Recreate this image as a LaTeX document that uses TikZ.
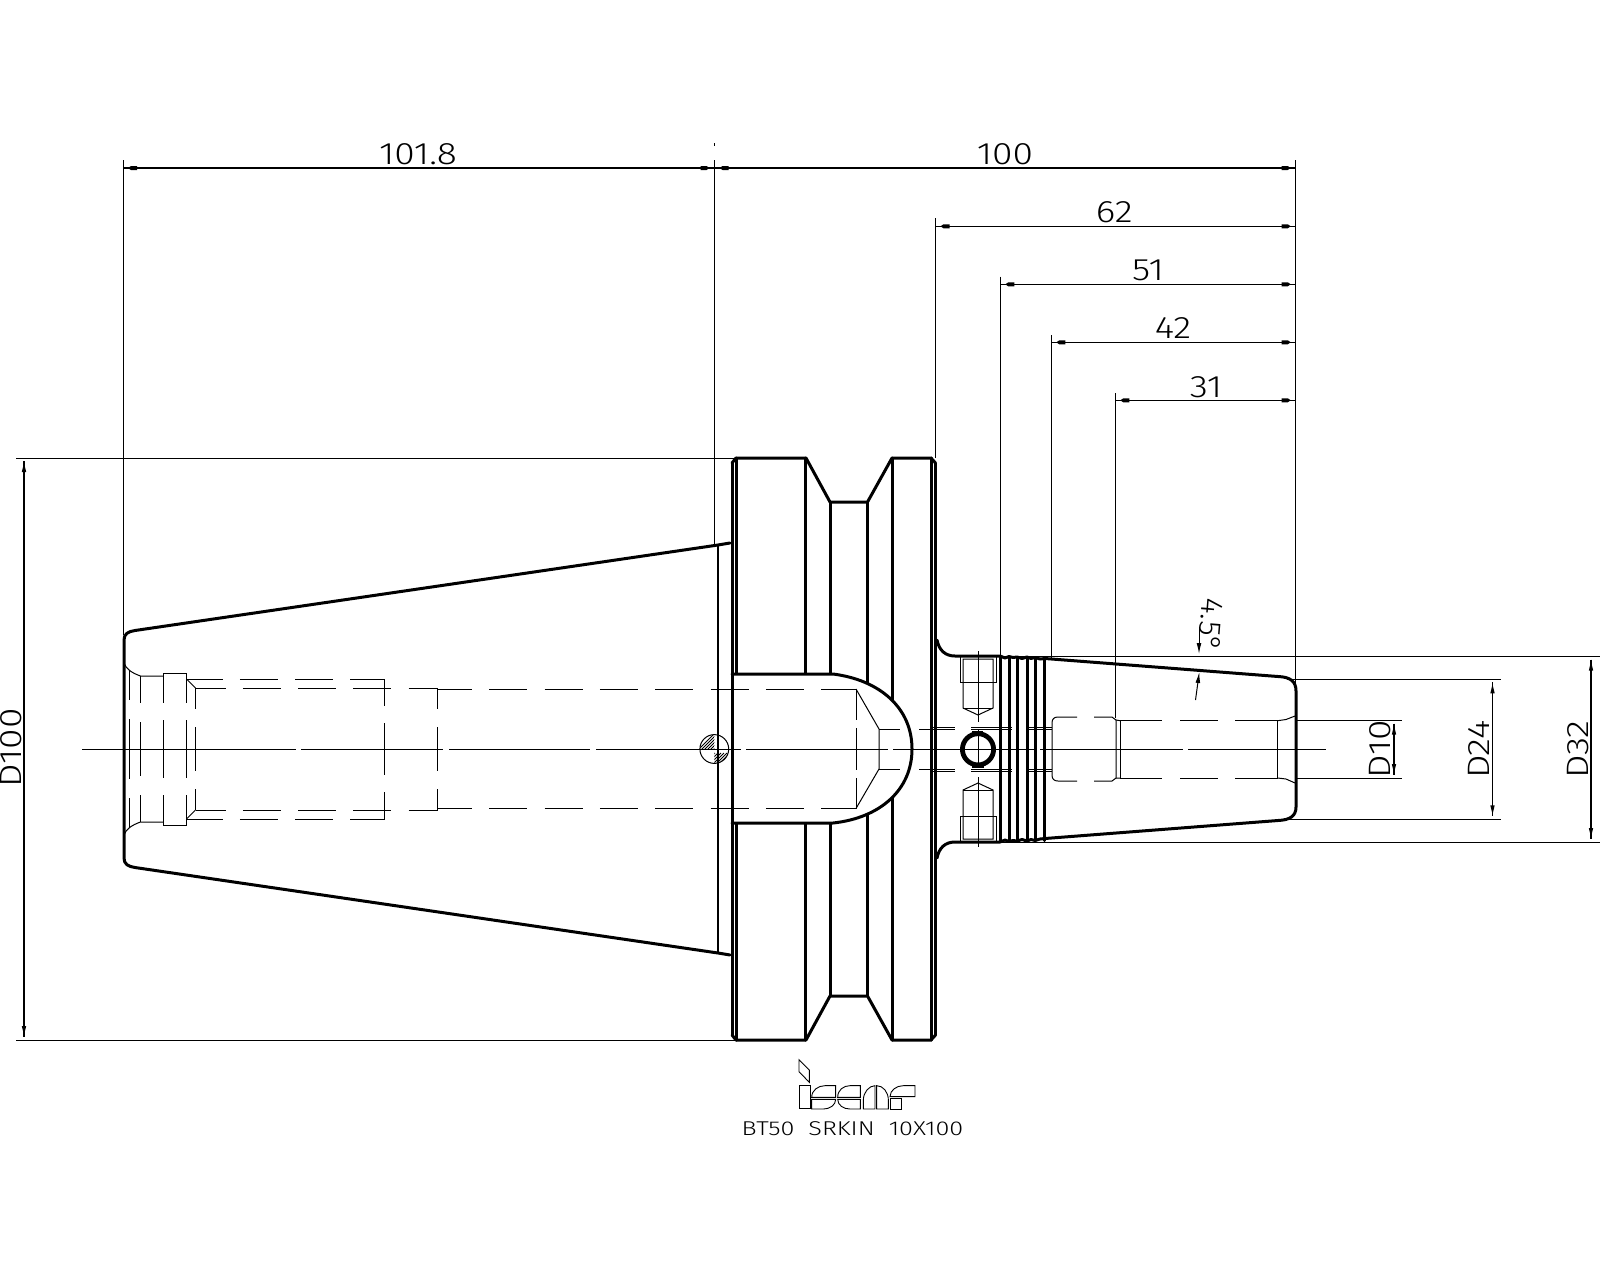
\documentclass[tikz,border=0pt]{standalone}
\usepackage{fontspec}
\setmainfont{Fira Sans Light}
\usetikzlibrary{arrows.meta}
\tikzset{
  thickline/.style={line width=1.5pt,line cap=round,line join=round,black},
  medline/.style={line width=1.2pt,black},
  thinline/.style={line width=0.5pt,black},
  hiddenline/.style={line width=0.5pt,black,dash pattern=on 19pt off 8.65pt},
  dimline/.style={line width=0.6pt,black},
  dimtext/.style={inner sep=0pt,xscale=1.2,font=\fontsize{15.5}{18}\selectfont},
  dimtextv/.style={inner sep=0pt,yscale=1.2,rotate=90,font=\fontsize{15.5}{18}\selectfont},
  logoline/.style={line width=0.45pt,black,line join=miter}
}
\newcommand{\hiddenv}[4]{%
  \draw[thinline] (#1,#2) -- (#1,#3) (#1,#4) -- (#1,1498-#4) (#1,1498-#3) -- (#1,1498-#2);}
% horizontal dimension: x1, x2, y
\newcommand{\hdimn}[3]{%
  \draw[dimline] (#1,#3) -- (#2,#3);
  \fill (#1+5,#3) -- (#1+8,#3-2) -- (#1+14,#3-2) -- (#1+14,#3+2) -- (#1+8,#3+2) -- cycle;
  \fill (#2-5,#3) -- (#2-8,#3-2) -- (#2-14,#3-2) -- (#2-14,#3+2) -- (#2-8,#3+2) -- cycle;}
% vertical dimension: x, y1, y2
\newcommand{\vdimn}[3]{%
  \draw[dimline] (#1,#2+3) -- (#1,#3-3);
  \fill (#1,#2+5) -- (#1-2.2,#2+14) -- (#1+2.2,#2+14) -- cycle;
  \fill (#1,#3-5) -- (#1-2.2,#3-14) -- (#1+2.2,#3-14) -- cycle;}
\begin{document}
\begin{tikzpicture}[x=0.5pt,y=-0.5pt]
\useasboundingbox (0,0) rectangle (1600,1280);
\fill[white] (0,0) rectangle (1600,1280);

% extension lines
\draw[thinline] (123,160) -- (123,635);
\draw[thinline] (714.5,160) -- (714.5,545) (714.5,143) -- (714.5,146);
\draw[thinline] (1295.7,160) -- (1295.7,687);
\draw[thinline] (935.5,218.3) -- (935.5,458);
\draw[thinline] (1000.3,276.7) -- (1000.3,656);
\draw[thinline] (1051.3,335) -- (1051.3,659);
\draw[thinline] (1115.3,393.3) -- (1115.3,718);
\draw[thinline] (16,458) -- (736,458) (16,1040) -- (736,1040);
\draw[thinline] (1000,656.5) -- (1600,656.5) (1000,842) -- (1600,842);
\draw[thinline] (1287,679.3) -- (1501,679.3) (1287,819.3) -- (1501,819.3);
\draw[thinline] (1296,720.5) -- (1401.5,720.5) (1296,778) -- (1401.5,778);

% dimension lines
\hdimn{123}{714.5}{168}
\hdimn{714.5}{1295.7}{168}
\hdimn{935.5}{1295.7}{226.3}
\hdimn{1000.3}{1295.7}{284.3}
\hdimn{1051.3}{1295.7}{342.3}
\hdimn{1115.3}{1295.7}{400.3}
\vdimn{24}{458}{1040}
\vdimn{1394}{720.5}{778}
\vdimn{1492.5}{679.3}{819.3}
\vdimn{1591}{656.5}{842}
\draw[thinline,-{Latex[length=5.5pt,width=2.4pt]}] (1199,627) -- (1199,654);
\draw[thinline,-{Latex[length=5.5pt,width=2.4pt]}] (1195.5,700) -- (1199.3,672);

% dimension text
\node[dimtext] (t1018) at (418,154) {101.8};
\node[dimtext] (t100) at (1005,154) {100};
\node[dimtext] (t62) at (1114.3,212.3) {62};
\node[dimtext] (t51) at (1148,270.3) {51};
\node[dimtext] (t42) at (1173,328) {42};
\node[dimtext] (t31) at (1206,386.7) {31};
\node[dimtextv] (tD100) at (11.5,748) {D100};
\node[dimtextv] (tD10) at (1380.5,749.5) {D10};
\node[dimtextv] (tD24) at (1479,749.5) {D24};
\node[dimtextv] (tD32) at (1578,749.5) {D32};
\node[inner sep=0pt,font=\fontsize{15.5}{18}\selectfont,rotate=-94.5] (tang) at (1211,625) {4.5°};

% flange vertical lines (slot drawn over them)
\draw[thickline] (736,458) -- (736,1040);
\draw[thickline] (805.5,458) -- (805.5,1040);
\draw[thickline] (830,502) -- (830,996);
\draw[thickline] (867.5,502) -- (867.5,996);
\draw[thickline] (892,458) -- (892,1040);
\draw[thickline] (931,458) -- (931,1040);
\draw[thickline] (935.5,463) -- (935.5,1035);
% flange outline
\draw[thickline] (732,463) -- (736,458) -- (806,458) -- (830,502) -- (867.5,502) -- (892,458) -- (931,458) -- (935.5,463);
\draw[thickline] (732,1035) -- (736,1040) -- (806,1040) -- (830,996) -- (867.5,996) -- (892,1040) -- (931,1040) -- (935.5,1035);
\draw[medline] (718,545) -- (718,953);

% body taper
\draw[thickline] (730,543) -- (718,545) -- (135,630.5) .. controls (128,631.5) and (124,634) .. (124,640)
  -- (124,858) .. controls (124,864) and (128,866.5) .. (135,867.5) -- (718,953) -- (730,955);

% drive slot
\draw[thickline,fill=white] (732,674) -- (833,674) .. controls (880,680) and (912,708) .. (912,749)
  .. controls (912,790) and (880,818) .. (833,823) -- (732,823);
\draw[thickline] (732,463) -- (732,1035);

% hidden bore, left part
\draw[thinline] (124,663) .. controls (126,669) and (132,673) .. (140.5,676) -- (163,676);
\draw[thinline] (124,835) .. controls (126,829) and (132,825) .. (140.5,822) -- (163,822);
\draw[thinline] (163,673) -- (186.5,673) (163,825) -- (186.5,825);
\draw[thinline] (186.5,679) -- (195.5,688) (186.5,819) -- (195.5,810);
\hiddenv{129.5}{670}{700}{719}
\hiddenv{140.5}{676}{703}{722}
\hiddenv{163}{673}{703}{720}
\hiddenv{186.5}{673}{703}{720}
\hiddenv{195.5}{688}{709}{727}
\hiddenv{384.5}{679}{706}{723}
\hiddenv{437.5}{688}{709}{727}
\hiddenv{856}{689}{720}{728}
\draw[hiddenline,dash phase=1pt] (186.5,679) -- (384.5,679);
\draw[hiddenline,dash phase=1pt] (186.5,819) -- (384.5,819);
\draw[hiddenline,dash phase=4pt] (195.5,688) -- (437.5,688);
\draw[hiddenline,dash phase=4pt] (195.5,810) -- (437.5,810);
\draw[hiddenline,dash phase=1.75pt] (437.5,689) -- (856,689);
\draw[hiddenline,dash phase=1.75pt] (437.5,808.5) -- (856,808.5);
% drill point
\draw[thinline] (856,689) -- (879,729) -- (879,769) -- (856,808.5);
\draw[thinline] (879,729) -- (900,729) (879,769) -- (900,769);
\draw[thinline] (919,729) -- (955,729) (971,729) -- (1012,729) (1028,729) -- (1052,729);
\draw[thinline] (930,727) -- (955,727) (971,727) -- (1012,727) (1028,727) -- (1052,727);
\draw[thinline] (919,769) -- (955,769) (971,769) -- (1012,769) (1028,769) -- (1052,769);
\draw[thinline] (930,771.5) -- (955,771.5) (971,771.5) -- (1012,771.5) (1028,771.5) -- (1052,771.5);

% small hatched hole
\draw[thinline] (714.3,749) circle [radius=7.2pt];
\begin{scope}
  \clip (714.3,749) -- (699.9,749) arc[start angle=180,end angle=90,radius=7.2pt] -- cycle;
  \foreach \k in {0,3,...,36} {\draw[line width=0.4pt] (695+\k,753) -- (695+\k+22,731);}
\end{scope}
\begin{scope}
  \clip (714.3,749) -- (728.7,749) arc[start angle=0,end angle=-90,radius=7.2pt] -- cycle;
  \foreach \k in {0,3,...,36} {\draw[line width=0.4pt] (690+\k,775) -- (690+\k+22,753);}
\end{scope}

% neck and nose
\draw[thickline] (937,640) .. controls (939,650) and (945,656) .. (955,656) -- (1000,656) -- (1005,658) -- (1009,656.5) -- (1013,657.5) -- (1017,657) -- (1022,658.5) -- (1027,657) -- (1031,658.5) -- (1035,657.5) -- (1040,659) -- (1045,658.5)
  -- (1278,676.5) .. controls (1290,677) and (1296,681) .. (1296,691) -- (1296,807)
  .. controls (1296,816) and (1290,820) .. (1278,820.5) -- (1045,838.5) -- (1040,839) -- (1035,840.5) -- (1031,839.5) -- (1027,841) -- (1022,839.5) -- (1017,841) -- (1013,840.5) -- (1009,841.5) -- (1005,840) -- (1000,842) -- (955,842) .. controls (945,842) and (939,848) .. (937,858);
\foreach \x in {1000,1009,1017,1027,1035,1044.5} {\draw[thickline] (\x,657.5) -- (\x,840.5);}

% screws
\foreach \s/\o in {1/0,-1/1498} {
  \draw[thinline] (960,\o+\s*656.5) rectangle (996,\o+\s*682);
  \draw[thinline] (963,\o+\s*682) -- (963,\o+\s*659) -- (993,\o+\s*659) -- (993,\o+\s*708) -- (978,\o+\s*715) -- (963,\o+\s*708) -- cycle;
  \draw[thinline] (963,\o+\s*708) -- (993,\o+\s*708);
}
\draw[thinline] (978,651) -- (978,722) (978,730) -- (978,768) (978,777) -- (978,847);
\draw[line width=2.4pt] (978,749.3) circle [radius=7.8pt];
\draw[line width=1.2pt] (972,732.5) -- (983,732.5) (972,766.5) -- (984,766.5);

% nose inner
\draw[thinline] (1077,717) -- (1058,717) .. controls (1054,717) and (1052,719) .. (1052,723) -- (1052,775) .. controls (1052,779) and (1054,781) .. (1058,781) -- (1077,781);
\draw[thinline] (1094,717) -- (1112,717) -- (1116,720) -- (1116,778) -- (1112,781) -- (1094,781);
\draw[thinline] (1120,720.7) -- (1120,778);
\draw[thinline] (1120,720.7) -- (1116,720) (1120,778) -- (1116,778);
\draw[thinline] (1120,720.7) -- (1162,720.7) (1180,720.7) -- (1218,720.7) (1235,720.7) -- (1277.7,720.7);
\draw[thinline] (1120,778) -- (1162,778) (1180,778) -- (1218,778) (1235,778) -- (1277.7,778);
\draw[thinline] (1277.7,720.7) -- (1277.7,778);
\draw[thinline] (1277.7,720.7) -- (1286,719.5) -- (1295,716);
\draw[thinline] (1277.7,778) -- (1286,779) -- (1295,783);

% centre line
\foreach \a/\b in {82/296,301/443,449/590,596/741,746/888,893/1035,1040/1183,1188/1326} {
  \draw[thinline] (\a,749.3) -- (\b,749.3);
}

% logo
\begin{scope}[shift={(795,1055)},x=0.1667pt,y=-0.1667pt]
  \draw[logoline] (12,14) -- (43,45) -- (43,82) -- (12,50) -- cycle;
  \draw[logoline] (13,90) rectangle (45,160);
  % s
  \draw[logoline] (50,127) .. controls (50,105) and (70,92) .. (90,92) -- (122,92) -- (122,127) -- cycle;
  \draw[logoline] (50,133) -- (122,133) .. controls (122,150) and (105,162) .. (85,162) -- (50,162) -- cycle;
  % e
  \draw[logoline] (128,127) .. controls (128,105) and (145,92) .. (165,92) -- (196,92) -- (196,127) -- cycle;
  \draw[logoline] (128,133) -- (196,133) -- (196,162) -- (165,162) .. controls (145,162) and (128,150) .. (128,133) -- cycle;
  % m
  \draw[logoline] (205,162) -- (205,135) .. controls (205,112) and (222,92) .. (240,92) -- (240,162) -- cycle;
  \draw[logoline] (245,92) .. controls (265,92) and (280,112) .. (280,135) -- (280,162) -- (245,162) -- cycle;
  % r
  \draw[logoline] (285,125) .. controls (285,105) and (305,92) .. (325,92) -- (360,92) -- (360,125) -- cycle;
  \draw[logoline] (285,131) -- (318,131) -- (318,162) -- (285,162) -- cycle;
\end{scope}
\node[inner sep=0pt,xscale=1.26,font=\fontsize{10}{12}\selectfont] (title) at (852.5,1128.7) {BT50\ \ SRKIN\ \ 10X100};
\end{tikzpicture}
\end{document}
